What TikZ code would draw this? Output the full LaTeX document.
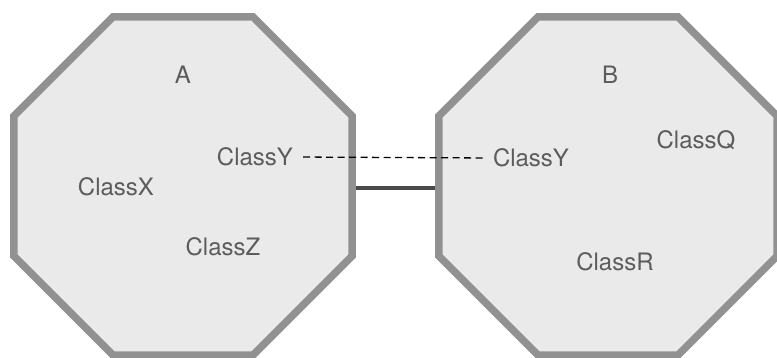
\documentclass[tikz,border=0pt]{standalone}
\usepackage{fontspec}
\setmainfont{TeX Gyre Heros}
\usepackage{tikz}
\usetikzlibrary{shapes.geometric}

\definecolor{boxfill}{HTML}{EAEAEA}
\definecolor{boxline}{HTML}{919191}
\definecolor{labelgray}{HTML}{5C5C5C}
\definecolor{linkgray}{HTML}{4A4A4A}

\tikzset{
  module/.style={regular polygon, regular polygon sides=8, minimum size=366pt,
    inner sep=0pt, draw=boxline, fill=boxfill, line width=7.5pt},
  cls/.style={text=labelgray, font=\fontsize{24}{28}\selectfont, inner sep=4pt}
}

\begin{document}
\begin{tikzpicture}[x=1pt, y=-1pt]
        \clip (0,0) rectangle (777,358);
        \node [module] (modA) at (183,186) {};
        \node [module] (modB) at (608,186) {};
        \node [cls] at (183,75) {A};
        \node [cls] at (610,75) {B};
        \node [cls] (xA) at (116,187) {ClassX};
        \node [cls] (yA) at (255,157) {ClassY};
        \node [cls] (zA) at (223,247) {ClassZ};
        \node [cls] (yB) at (531,158) {ClassY};
        \node [cls] (qB) at (696,140) {ClassQ};
        \node [cls] (rB) at (615,262) {ClassR};
        \draw [line width=4.5pt, linkgray] ([yshift=-2pt]modA.east)--([yshift=-2pt]modB.west);
        \draw [line width=1.3pt, dash pattern=on 7pt off 4.5pt, shorten <=6pt, shorten >=6pt]
          (yA.east)--(yB.west);
      \end{tikzpicture}
\end{document}
